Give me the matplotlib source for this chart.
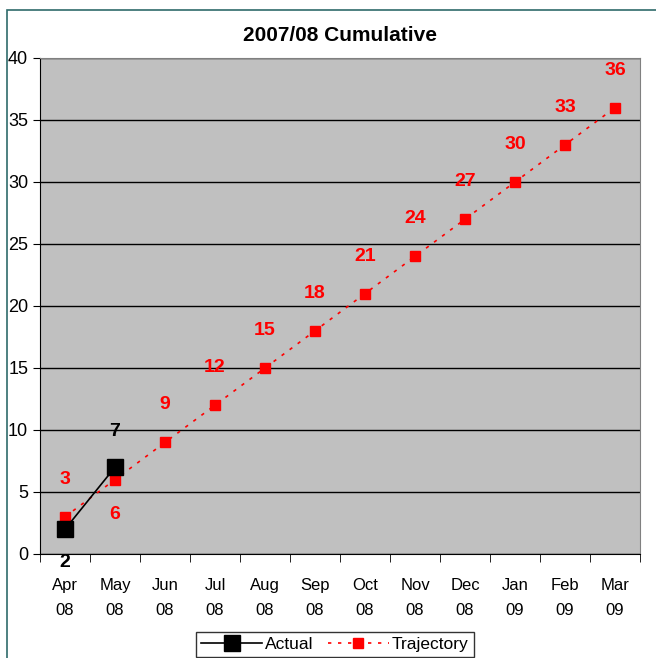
import matplotlib
matplotlib.use("Agg")
import matplotlib.pyplot as plt
from matplotlib.patches import Rectangle

months = ["Apr\n08", "May\n08", "Jun\n08", "Jul\n08", "Aug\n08", "Sep\n08",
          "Oct\n08", "Nov\n08", "Dec\n08", "Jan\n09", "Feb\n09", "Mar\n09"]
trajectory = [3, 6, 9, 12, 15, 18, 21, 24, 27, 30, 33, 36]
actual = [2, 7]

plt.rcParams['font.family'] = ['Liberation Sans Narrow', 'Liberation Sans', 'DejaVu Sans']

fig = plt.figure(figsize=(6.56, 6.58), dpi=100)
ax = fig.add_axes([40/656, 1-554/658, 600/656, 496/658])

# outer chart frame
fig.patches.append(Rectangle((7/656, -0.1), 1.2, 1 - 10/658 + 0.1, transform=fig.transFigure,
                             fill=False, edgecolor="#2f6b6b", linewidth=1.2))

x = list(range(len(months)))
ax.set_facecolor("#c0c0c0")
ax.plot(x, trajectory, color="red", linestyle=(0, (2, 4)), linewidth=1.2,
        marker="s", markersize=7, markeredgecolor="red", label="Trajectory", zorder=3)
ax.plot(x[:len(actual)], actual, color="black", linewidth=1.2,
        marker="s", markersize=11, label="Actual", zorder=4)

lbl = dict(textcoords="offset points", ha="center", va="center",
           fontsize=14, fontweight="bold")
for i, v in enumerate(trajectory):
    dy = -25 if i == 1 else 27
    ax.annotate(str(v), (i, v), xytext=(0, dy), color="red", **lbl)
ax.annotate(str(actual[0]), (0, actual[0]), xytext=(0, -24), color="black", **lbl)
ax.annotate(str(actual[1]), (1, actual[1]), xytext=(0, 26), color="black", **lbl)

ax.set_xlim(-0.5, len(months) - 0.5)
ax.set_ylim(0, 40)
ax.set_yticks(range(0, 41, 5))
ax.yaxis.grid(True, color="black", linewidth=1)
ax.set_axisbelow(True)
ax.set_xticks(x)
ax.set_xticklabels(months, fontsize=12, linespacing=1.9)
ax.set_xticks([i + 0.5 for i in range(-1, len(months))], minor=True)
ax.tick_params(axis="x", which="major", length=0, pad=17)
ax.tick_params(axis="x", which="minor", length=6, direction="out", color="black")
ax.tick_params(axis="y", labelsize=13, length=5, direction="out")
for side in ["top", "right"]:
    ax.spines[side].set_color("#808080")
ax.spines["left"].set_color("black")
ax.spines["bottom"].set_color("black")

ax.set_title("2007/08 Cumulative", fontsize=15, fontweight="bold", pad=12)

h, l = ax.get_legend_handles_labels()
leg = fig.legend(h[::-1], l[::-1], loc="lower center", bbox_to_anchor=(335/656, -8/658),
                 ncol=2, frameon=True, fontsize=12.5, fancybox=False, edgecolor="black",
                 handlelength=3.5, columnspacing=0.8, handletextpad=0.2, borderpad=0.3)
leg.get_frame().set_linewidth(1)

fig.savefig("out.png", dpi=100)
